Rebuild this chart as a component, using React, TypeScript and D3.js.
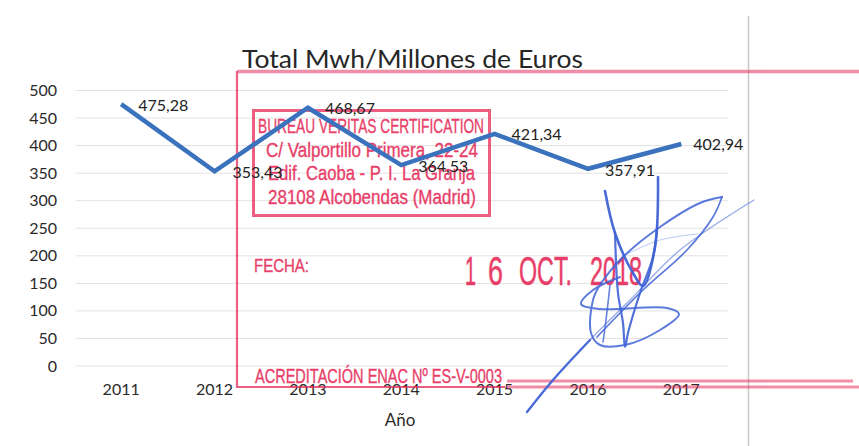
import React from "react";
import * as d3 from "d3";

const years = ["2011", "2012", "2013", "2014", "2015", "2016", "2017"];
const values = [475.28, 353.43, 468.67, 364.53, 421.34, 357.91, 402.94];
const valueLabels = ["475,28", "353,43", "468,67", "364,53", "421,34", "357,91", "402,94"];
const labelOffsets: [number, number][] = [[17, 7], [18, 7], [17, 6], [17, 7], [17, 6], [17, 7], [12, 6]];
const yTicks = [0, 50, 100, 150, 200, 250, 300, 350, 400, 450, 500];

const stampLines = [
  { t: "BUREAU VERITAS CERTIFICATION", x: 258, y: 133, w: 226, s: 21 },
  { t: "C/ Valportillo Primera, 22-24", x: 266, y: 157, w: 212, s: 21 },
  { t: "Edif. Caoba - P. I. La Granja", x: 268, y: 180, w: 207, s: 21 },
  { t: "28108 Alcobendas (Madrid)", x: 268, y: 204, w: 208, s: 21 },
  { t: "FECHA:", x: 254, y: 272, w: 55, s: 19 },
  { t: "ACREDITACIÓN ENAC Nº ES-V-0003", x: 255, y: 383, w: 247, s: 21 },
];
const dateParts = [
  { t: "1", x: 465, w: 11 },
  { t: "6", x: 488, w: 15 },
  { t: "OCT.", x: 519, w: 53 },
  { t: "2018", x: 590, w: 52 },
];

// signature strokes, in pixels of the page
const sigStrokes: { p: [number, number][]; w: number; o: number }[] = [
  { p: [[527, 412], [560, 372], [590, 340], [630, 300], [680, 250], [754, 200]], w: 1.3, o: 0.55 },
  { p: [[527, 412], [553, 380], [590, 340]], w: 2.4, o: 0.9 },
  { p: [[605, 191], [615, 233], [633, 273], [643, 286], [655, 247], [658, 177]], w: 2.6, o: 0.95 },
  { p: [[722, 197], [700, 203], [660, 227], [623, 257], [600, 285], [593, 300], [591, 333], [600, 345], [625, 345], [660, 330], [679, 314], [667, 308], [600, 309], [581, 304], [593, 290], [620, 277]], w: 2, o: 0.85 },
  { p: [[722, 197], [713, 217], [687, 250], [643, 290], [597, 337]], w: 1.7, o: 0.85 },
  { p: [[657, 228], [653, 257], [640, 293], [628, 333], [625, 347], [623, 323], [618, 293], [615, 233]], w: 2.2, o: 0.9 },
  { p: [[610, 285], [606, 320], [603, 342]], w: 1.6, o: 0.8 },
  { p: [[625, 255], [660, 240], [698, 234]], w: 0.9, o: 0.4 },
];

const W = 859;
const H = 446;
const x = d3.scaleBand<string>().domain(years).range([74.5, 728]);
const y = d3.scaleLinear().domain([0, 500]).range([366, 90.5]);
const font = "Lato, 'Open Sans', sans-serif";
const red = "#e62a58";

export default function App() {
  const cx = (d: string) => (x(d) as number) + x.bandwidth() / 2;
  const line = d3.line<number>().x((_, i) => cx(years[i])).y((d) => y(d));
  const sig = d3.line<[number, number]>().curve(d3.curveCatmullRom.alpha(0.5));
  return (
    <svg width={W} height={H} style={{ position: "fixed", left: 0, top: 0, background: "#fff" }}>
      {yTicks.map((t) => (
        <g key={t}>
          <line x1={76} x2={728} y1={y(t)} y2={y(t)} stroke="#e2e2e2" strokeWidth={1} />
          <text x={57} y={y(t) + 5.5} textAnchor="end" fontFamily={font} fontSize={16} fill="#2a2a2a">{t}</text>
        </g>
      ))}
      <line x1={748.5} x2={748.5} y1={16} y2={H} stroke="#c8c8c8" strokeWidth={1.5} />

      <text x={242} y={68} fontFamily={font} fontSize={25} textLength={341} lengthAdjust="spacingAndGlyphs" fill="#262626">Total Mwh/Millones de Euros</text>

      {years.map((d) => (
        <text key={d} x={cx(d)} y={395} textAnchor="middle" fontFamily={font} fontSize={16} fill="#2a2a2a">{d}</text>
      ))}
      <text x={400} y={426} textAnchor="middle" fontFamily={font} fontSize={17} fill="#2a2a2a">Año</text>

      {/* stamp */}
      <g fill="none" stroke={red} opacity={0.75}>
        <path d="M237 71.5H859" strokeWidth={3.5} strokeOpacity={0.7} />
        <path d="M237 71V387H505" strokeWidth={2.2} />
        <path d="M507 381H853M507 387H859" strokeWidth={3} strokeOpacity={0.7} />
        <rect x={253.5} y={110.5} width={236} height={105} strokeWidth={3} />
      </g>
      {stampLines.map((l) => (
        <text key={l.t} x={l.x} y={l.y} fontFamily="'Liberation Sans', sans-serif" fontSize={l.s}
          textLength={l.w} lengthAdjust="spacingAndGlyphs" fill={red} stroke={red} strokeWidth={0.35} opacity={0.9}>{l.t}</text>
      ))}
      {dateParts.map((d) => (
        <text key={d.t} x={d.x} y={285} fontFamily="'Liberation Sans', sans-serif" fontSize={41} textLength={d.w}
          lengthAdjust="spacingAndGlyphs" fill={red} stroke={red} strokeWidth={0.5} opacity={0.9}>{d.t}</text>
      ))}

      <path d={line(values) as string} fill="none" stroke="#3a72bd" strokeWidth={4.5} strokeLinejoin="miter" />
      {values.map((v, i) => (
        <text key={i} x={cx(years[i]) + labelOffsets[i][0]} y={y(v) + labelOffsets[i][1]} fontFamily={font} fontSize={16} fill="#222">{valueLabels[i]}</text>
      ))}

      {sigStrokes.map((s, i) => (
        <path key={i} d={sig(s.p) as string} fill="none" stroke="#3f63d6" strokeWidth={s.w} opacity={s.o} strokeLinecap="round" />
      ))}
    </svg>
  );
}
